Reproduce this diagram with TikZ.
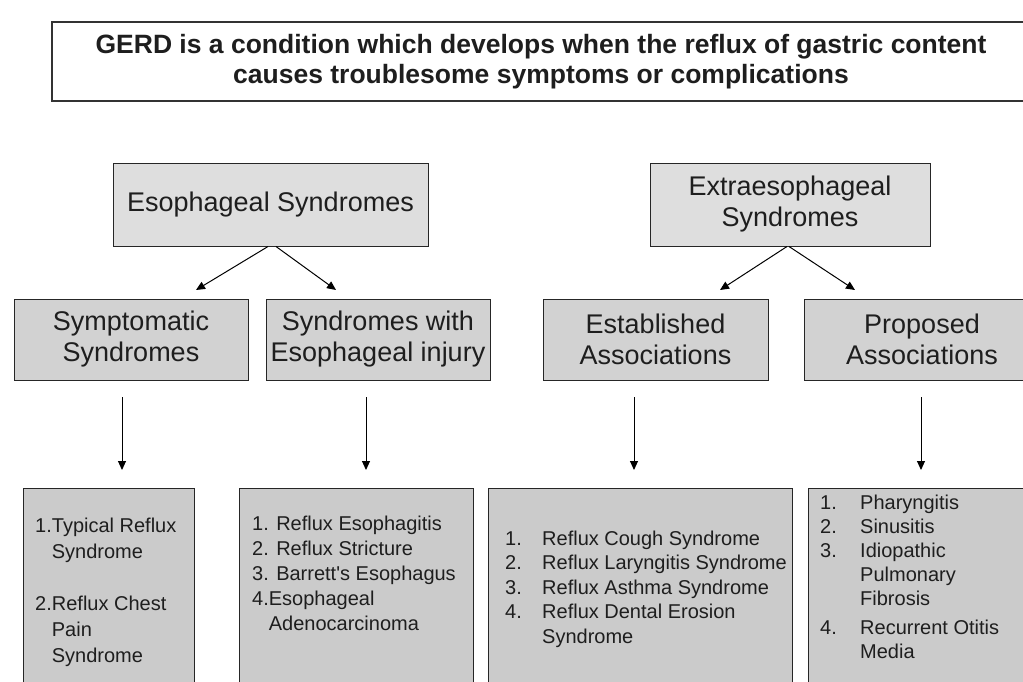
\documentclass[tikz,border=0pt]{standalone}
\usepackage{fontspec}
\setmainfont{Liberation Sans}
\usetikzlibrary{arrows.meta}
\definecolor{txt}{HTML}{1E1E1E}
\definecolor{fillA}{HTML}{DEDEDE}
\definecolor{fillB}{HTML}{D2D2D2}
\definecolor{fillC}{HTML}{CBCBCB}
\begin{document}
\begin{tikzpicture}[x=1pt,y=-1pt,
  box/.style={draw=black!85, line width=1pt, inner sep=0pt, align=center, text=txt,
    font=\fontsize{27}{31}\selectfont},
  lvla/.style={box, fill=fillA},
  lvlb/.style={box, fill=fillB, minimum height=81pt},
  listbox/.style={draw=black!85, line width=1pt, fill=fillC, inner sep=0pt, minimum height=212pt},
  listtext/.style={anchor=north west, inner sep=0pt, text=txt},
  arr/.style={-{Triangle[length=9pt,width=8pt]}, line width=1pt},
]
\clip (0,0) rectangle (1023,681);
\fill[white] (0,0) rectangle (1023,681);

% title
\node[draw=black!80, line width=1.3pt, minimum width=978pt, minimum height=79pt, inner sep=0pt,
  font=\bfseries\fontsize{26.5}{29.5}\selectfont, align=center, text=txt] (title) at (541,61.5)
  {GERD is a condition which develops when the reflux of gastric content\\causes troublesome symptoms or complications};

% level 1
\node[lvla, minimum width=315pt, minimum height=83pt] (es) at (270.5,204.5) {Esophageal Syndromes};
\node[lvla, minimum width=280pt, minimum height=83pt] (ex) at (790,204.5) {Extraesophageal\\Syndromes};

% level 2
\node[lvlb, minimum width=234pt] (sym) at (131,339.5) {Symptomatic\\Syndromes};
\node[lvlb, minimum width=224pt] (inj) at (378,339.5) {Syndromes with\\Esophageal injury};
\node[lvlb, minimum width=225pt] (est) at (655.5,339.5) {Established\\Associations};
\node[lvlb, minimum width=236pt] (pro) at (922,339.5) {Proposed\\Associations};

% level 3 boxes
\node[listbox, minimum width=171pt] (b1) at (108.5,594) {};
\node[listbox, minimum width=234pt] (b2) at (356,594) {};
\node[listbox, minimum width=304pt] (b3) at (640,594) {};
\node[listbox, minimum width=232pt] (b4) at (924,594) {};

% level 3 texts
\node[listtext, font=\fontsize{20}{26}\selectfont] (t1) at (35,514)
  {\begin{tabular}[t]{@{}l@{}}1.Typical Reflux\\\phantom{1.}Syndrome\\ \\2.Reflux Chest\\\phantom{1.}Pain\\\phantom{1.}Syndrome\end{tabular}};
\node[listtext, font=\fontsize{20}{25}\selectfont] (t2) at (252,512.7)
  {\begin{tabular}[t]{@{}l@{}}1. Reflux Esophagitis\\2. Reflux Stricture\\3. Barrett\textquotesingle s Esophagus\\4.Esophageal\\\phantom{4.}Adenocarcinoma\end{tabular}};
\node[listtext, font=\fontsize{20}{24.5}\selectfont] (t3) at (505,528)
  {\begin{tabular}[t]{@{}p{37pt}@{}l@{}}1.&Reflux Cough Syndrome\\2.&Reflux Laryngitis Syndrome\\3.&Reflux Asthma Syndrome\\4.&Reflux Dental Erosion\\&Syndrome\end{tabular}};
\node[listtext, font=\fontsize{20}{24}\selectfont] (t4) at (820,492.4)
  {\begin{tabular}[t]{@{}p{40pt}@{}l@{}}1.&Pharyngitis\\2.&Sinusitis\\3.&Idiopathic\\&Pulmonary\\&Fibrosis\\[5pt]4.&Recurrent Otitis\\&Media\end{tabular}};

% diagonal arrows
\coordinate (e1) at (196,290);
\coordinate (e2) at (336,290);
\coordinate (e3) at (720,290);
\coordinate (e4) at (855,290);
\draw[arr] ([xshift=-2.5pt]es.south) -- (e1);
\draw[arr] ([xshift=5.5pt]es.south) -- (e2);
\draw[arr] ([xshift=-3pt]ex.south) -- (e3);
\draw[arr] ([xshift=-1pt]ex.south) -- (e4);

% vertical arrows
\coordinate (s1) at (122,397); \coordinate (f1) at (122,470);
\coordinate (s2) at (366,397); \coordinate (f2) at (366,470);
\coordinate (s3) at (634,397); \coordinate (f3) at (634,470);
\coordinate (s4) at (921,397); \coordinate (f4) at (921,470);
\draw[arr] (s1) -- (f1);
\draw[arr] (s2) -- (f2);
\draw[arr] (s3) -- (f3);
\draw[arr] (s4) -- (f4);
\end{tikzpicture}
\end{document}
